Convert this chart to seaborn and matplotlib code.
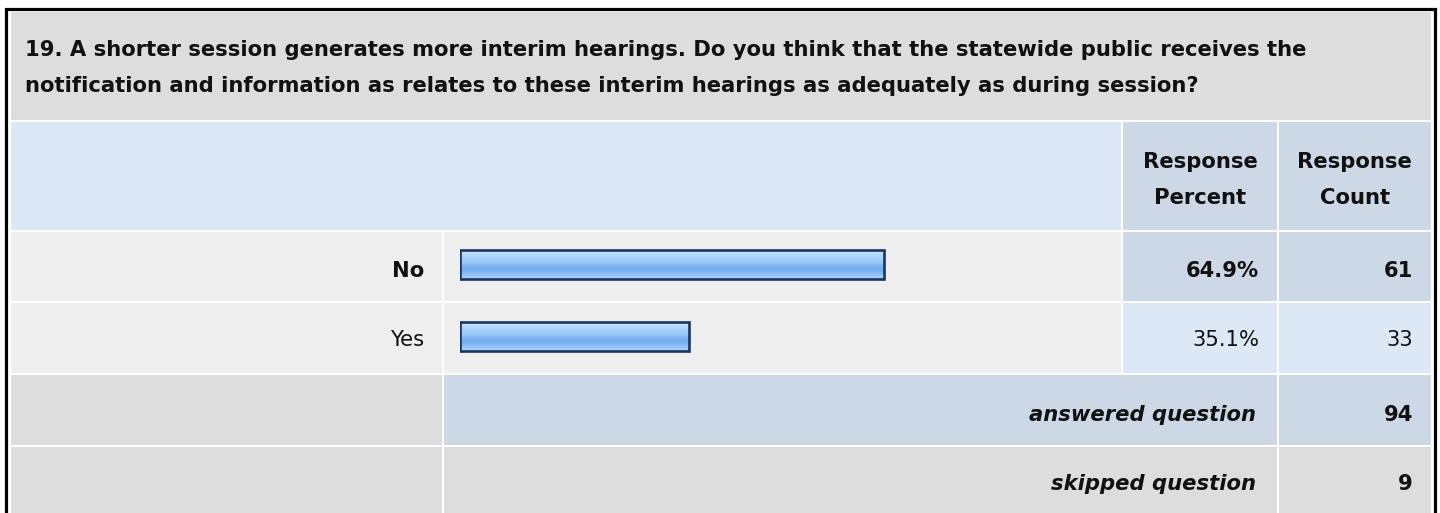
import numpy as np
import seaborn as sns
import matplotlib.pyplot as plt
from matplotlib.patches import Rectangle
from matplotlib.colors import LinearSegmentedColormap

# ---------- DATA ----------
question_lines = [
    "19. A shorter session generates more interim hearings. Do you think that the statewide public receives the",
    "notification and information as relates to these interim hearings as adequately as during session?",
]
answers = ["No", "Yes"]
percents = [64.9, 35.1]
counts = [61, 33]
answered = 94
skipped = 9

# ---------- STYLE ----------
sns.set_style("white")
plt.rcParams['font.family'] = ['DejaVu Sans']

W, H = 1440, 513
GRAY = "#dddddd"
LIGHT = "#eeeeee"
BLUE1 = "#dce8f5"
BLUE2 = "#cdd8e6"
INK = "#111111"
FS = 15.2

fig = plt.figure(figsize=(W / 100, H / 100), dpi=100)
bg = fig.add_axes([0, 0, 1, 1])
bg.set_xlim(0, W)
bg.set_ylim(H, 0)
bg.axis("off")

# outer frame
bg.add_patch(Rectangle((6, 8.5), 1428.5, 520, facecolor="white", edgecolor="black", lw=2.3))


def cell(x0, x1, y0, y1, color):
    bg.add_patch(Rectangle((x0, y0), x1 - x0, y1 - y0, facecolor=color, edgecolor="none"))


# column / row edges in pixels
c0, c1, c2, c3, c4, c5, c6, c7 = 10.5, 442, 444, 1121, 1123, 1277, 1279, 1430.5
rows = [(12, 120), (122, 230), (232, 301), (303, 373), (375, 445), (447, 520)]

cell(c0, c7, *rows[0], GRAY)
cell(c0, c3, *rows[1], BLUE1)
cell(c4, c5, *rows[1], BLUE2)
cell(c6, c7, *rows[1], BLUE2)
cell(c0, c1, *rows[2], LIGHT)
cell(c2, c3, *rows[2], LIGHT)
cell(c4, c5, *rows[2], BLUE2)
cell(c6, c7, *rows[2], BLUE2)
cell(c0, c1, *rows[3], LIGHT)
cell(c2, c3, *rows[3], LIGHT)
cell(c4, c5, *rows[3], BLUE1)
cell(c6, c7, *rows[3], BLUE1)
cell(c0, c1, *rows[4], GRAY)
cell(c2, c5, *rows[4], BLUE2)
cell(c6, c7, *rows[4], BLUE2)
cell(c0, c1, *rows[5], GRAY)
cell(c2, c5, *rows[5], GRAY)
cell(c6, c7, *rows[5], GRAY)

# ---------- TEXT ----------
for line, yb in zip(question_lines, [56, 92]):
    bg.text(25, yb, line, fontsize=FS, fontweight="bold", ha="left", va="baseline", color=INK)

for xc, lab in [((c4 + c5) / 2, "Percent"), ((c6 + c7) / 2, "Count")]:
    bg.text(xc, 168, "Response", fontsize=FS, fontweight="bold", ha="center", va="baseline", color=INK)
    bg.text(xc, 204, lab, fontsize=FS, fontweight="bold", ha="center", va="baseline", color=INK)

row_base = [277, 346]
for i, (lab, p, n) in enumerate(zip(answers, percents, counts)):
    w = "bold" if p == max(percents) else "normal"
    bg.text(424, row_base[i], lab, fontsize=FS, fontweight=w, ha="right", va="baseline", color=INK)
    bg.text(1259, row_base[i], f"{p:.1f}%", fontsize=FS, fontweight=w, ha="right", va="baseline", color=INK)
    bg.text(1413, row_base[i], f"{n}", fontsize=FS, fontweight=w, ha="right", va="baseline", color=INK)

bg.text(1256, 421, "answered question", fontsize=FS, fontweight="bold", style="italic",
        ha="right", va="baseline", color=INK)
bg.text(1413, 421, f"{answered}", fontsize=FS, fontweight="bold", ha="right", va="baseline", color=INK)
bg.text(1256, 490, "skipped question", fontsize=FS, fontweight="bold", style="italic",
        ha="right", va="baseline", color=INK)
bg.text(1413, 490, f"{skipped}", fontsize=FS, fontweight="bold", ha="right", va="baseline", color=INK)

# ---------- BARS ----------
bx0, bw = 460, 653
by_top, by_bot = 228.5, 372.5
ax = fig.add_axes([bx0 / W, (H - by_bot) / H, bw / W, (by_bot - by_top) / H])
sns.barplot(x=percents, y=answers, orient="h", ax=ax, width=0.39, color="#9ccaf8",
            edgecolor="#1c3560", linewidth=1.9)
ax.axis("off")
ax.patch.set_alpha(0)

grad = LinearSegmentedColormap.from_list(
    "bar", ["#d2e8ff", "#b6d9fd", "#a2cffb", "#9ccaf8", "#76aff0", "#76aff0", "#92c3f6", "#acd4fb"])
g = np.linspace(0, 1, 64).reshape(-1, 1)
for bar in ax.patches:
    x, y = bar.get_x(), bar.get_y()
    w, h = bar.get_width(), bar.get_height()
    im = ax.imshow(g, cmap=grad, aspect="auto", extent=(x, x + w, y + h, y), zorder=1,
                   interpolation="bilinear")
    im.set_clip_path(bar)
    bar.set_facecolor("none")
    bar.set_zorder(2)
ax.set_xlim(0, 100)
ax.set_ylim(1.5, -0.5)

plt.savefig("out.png", dpi=100)
